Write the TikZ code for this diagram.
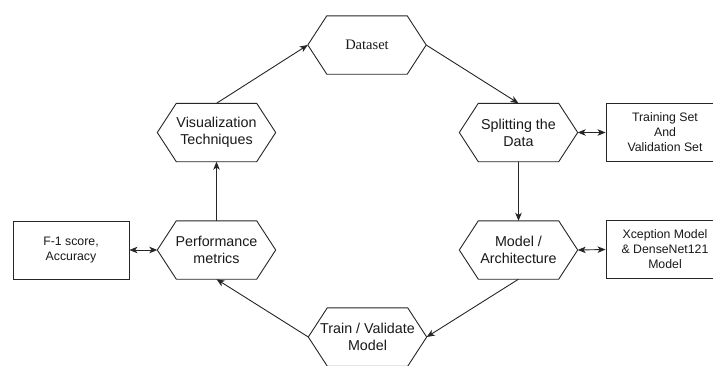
\documentclass[tikz,border=0pt]{standalone}
\usepackage{fontspec}
\setmainfont{Liberation Sans}
\newfontfamily\serifont{Liberation Serif}
\usetikzlibrary{arrows.meta}
\tikzset{
  hexn/.style={minimum width=118pt, minimum height=58pt, inner sep=0pt, align=center,
    font=\fontsize{14.3}{17}\selectfont, text=black!90},
  boxn/.style={draw=black!85, line width=0.9pt, minimum width=117pt, minimum height=58pt,
    inner sep=0pt, align=center, font=\fontsize{12.3}{15}\selectfont, text=black!90},
  hexl/.style={draw=black!85, line width=0.9pt, line join=miter},
  arr/.style={draw=black!85, line width=0.9pt, -{Stealth[length=8pt,width=6.5pt,inset=2.2pt]}},
  dbl/.style={draw=black!85, line width=0.9pt, {Stealth[length=8pt,width=6.5pt,inset=2.2pt]}-{Stealth[length=8pt,width=6.5pt,inset=2.2pt]}}
}
\newcommand\hexoutline[1]{%
  \draw[hexl] (#1.west) -- ([xshift=19pt]#1.north west) -- ([xshift=-19pt]#1.north east)
    -- (#1.east) -- ([xshift=-19pt]#1.south east) -- ([xshift=19pt]#1.south west) -- cycle;}
\begin{document}
\begin{tikzpicture}[x=1pt, y=-1pt]
\useasboundingbox (0,0) rectangle (713,365);
\fill[white] (0,0) rectangle (713,365);
\clip (0,0) rectangle (713,365);

\node[hexn, font=\serifont\fontsize{14.5}{17}\selectfont] (ds) at (367,45) {Dataset};
\node[hexn] (split) at (518.5,132.5) {Splitting the\\Data};
\node[hexn] (model) at (518.5,250) {Model /\\Architecture};
\node[hexn] (train) at (367.5,337) {Train / Validate\\Model};
\node[hexn] (perf) at (216.5,250) {Performance\\metrics};
\node[hexn] (viz) at (216.5,132.5) {Visualization\\Techniques};
\hexoutline{ds}
\hexoutline{split}
\hexoutline{model}
\hexoutline{train}
\hexoutline{perf}
\hexoutline{viz}

\node[boxn, minimum width=118pt] (tr) at (665,132.5) {Training Set\\And\\Validation Set};
\node[boxn, minimum width=118pt] (xc) at (665,249.5) {Xception Model\\\& DenseNet121\\Model};
\node[boxn, minimum width=116pt] (f1) at (71,250) {F-1 score,\\Accuracy};

\draw[arr] (viz.north) -- (ds.west);
\draw[arr] (ds.east) -- (split.north);
\draw[arr] (split.south) -- (model.north);
\draw[arr] (model.south) -- (train.east);
\draw[arr] (train.west) -- (perf.south);
\draw[arr] (perf.north) -- (viz.south);
\draw[dbl] (split.east) -- (tr.west);
\draw[dbl] (model.east) -- (xc.west);
\draw[dbl] (f1.east) -- (perf.west);
\end{tikzpicture}
\end{document}
